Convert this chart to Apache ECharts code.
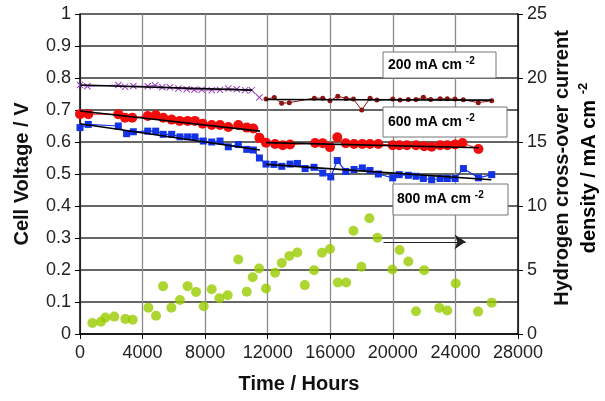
<!DOCTYPE html>
<html><head><meta charset="utf-8">
<script src="https://cdn.jsdelivr.net/npm/echarts@6/dist/echarts.min.js"></script>
<style>html,body{margin:0;padding:0;background:#fff}#c{width:605px;height:401px}</style>
</head><body><div id="c"></div>
<script>
// ---- data ----
var xTicks = [0,4000,8000,12000,16000,20000,24000,28000];
var leftTicks = [0,0.1,0.2,0.3,0.4,0.5,0.6,0.7,0.8,0.9,1];
var rightTicks = [0,5,10,15,20,25];

var t200a = [0,470,2450,2880,3410,4330,4800,5260,5750,6290,6820,7310,7780,8420,8950,9480,10020,10550,10980,11470];
var v200a = [0.778,0.774,0.778,0.773,0.775,0.774,0.777,0.771,0.771,0.767,0.765,0.763,0.763,0.762,0.763,0.767,0.765,0.762,0.762,0.739];

var t200b = [11890,12420,12890,13380,14980,15520,15980,16480,17010,17480,18010,18540,18980,20000,20460,20990,21480,21950,22420,23020,23480,23970,24500,25460,26320];
var v200b = [0.734,0.739,0.721,0.723,0.737,0.737,0.729,0.743,0.736,0.734,0.700,0.737,0.731,0.734,0.731,0.733,0.733,0.740,0.733,0.735,0.735,0.734,0.732,0.723,0.729];

var t600 = [0,530,2450,2880,3340,4330,4840,5320,5860,6370,6880,7350,7840,8420,8950,9480,10120,10660,11080,11470,11890,12470,12960,13430,15030,15520,15980,16450,16990,17520,18050,18540,19070,19990,20410,20900,21480,22000,22480,23020,23480,23980,24450,25470];
var v600 = [0.687,0.687,0.687,0.676,0.676,0.681,0.684,0.676,0.670,0.666,0.666,0.666,0.657,0.653,0.653,0.647,0.653,0.645,0.642,0.613,0.598,0.594,0.590,0.592,0.597,0.596,0.584,0.615,0.596,0.594,0.594,0.594,0.594,0.590,0.590,0.590,0.590,0.587,0.585,0.590,0.590,0.592,0.597,0.578];

var t800 = [0,530,2450,2980,3410,4330,4840,5320,5860,6390,6880,7350,7880,8420,8950,9480,10120,10660,11080,11470,11890,12400,12900,13430,13900,14390,14960,15520,16030,16450,16990,17520,18050,18540,19070,19990,20410,20990,21480,21950,22480,23020,23480,23980,24510,25470,26320];
var v800 = [0.645,0.655,0.650,0.626,0.632,0.634,0.634,0.624,0.624,0.616,0.616,0.616,0.603,0.600,0.603,0.585,0.592,0.577,0.575,0.550,0.531,0.530,0.524,0.531,0.533,0.517,0.521,0.503,0.491,0.542,0.508,0.514,0.519,0.511,0.500,0.488,0.498,0.496,0.493,0.486,0.482,0.486,0.486,0.486,0.517,0.488,0.498];

var tH2 = [790,1340,1620,2190,2900,3370,4370,4860,5310,5840,6390,6880,7420,7910,8420,8910,9440,10120,10660,11040,11450,11890,12470,12900,13380,13890,14370,14960,15470,15980,16480,17010,17480,17990,18500,19010,19970,20430,20990,21480,22000,22970,23480,24020,25450,26320];
var vH2 = [0.86,0.96,1.28,1.36,1.18,1.12,2.06,1.43,3.74,2.06,2.66,3.74,3.29,2.17,3.5,2.8,3.03,5.82,3.31,4.44,5.12,3.55,4.78,5.54,6.09,6.37,3.82,4.99,6.35,6.64,4.02,4.02,8.07,5.25,9.04,7.52,5.04,6.56,5.67,1.78,4.99,2.04,1.83,3.94,1.75,2.45];

// trend lines: [t0, v0, t1, v1]
var trend200a = [0,0.778,11000,0.762];
var trend200b = [11900,0.733,26300,0.731];
var trend600a = [0,0.697,11500,0.634];
var trend600b = [11900,0.598,25500,0.582];
var trend800a = [0,0.657,11500,0.575];
var trend800b = [11900,0.530,26300,0.482];

var arrowH2 = [19400,7.2,24650,7.2];

var labels = ['200 mA cm','600 mA cm','800 mA cm'];

// ---- build ----
function zip(a,b){return a.map(function(v,i){return [v,b[i]];});}
function seg(s){return [[s[0],s[1]],[s[2],s[3]]];}
var FF = 'Liberation Sans, Arial, sans-serif';
var xMark = 'path://M0,1L1,0L5,4L9,0L10,1L6,5L10,9L9,10L5,6L1,10L0,9L4,5Z';

function trend(s){
  return {type:'line', data:seg(s), symbol:'none', silent:true, z:5,
    lineStyle:{color:'#000', width:1.6}};
}

var chart = echarts.init(document.getElementById('c'), null, {renderer:'canvas'});
var axisLbl = {color:'#222', fontSize:18, fontFamily:FF};
chart.setOption({
  animation:false,
  backgroundColor:'#fff',
  grid:{left:80, right:87, top:14, bottom:67},
  xAxis:{type:'value', min:xTicks[0], max:xTicks[xTicks.length-1], interval:4000,
    name:'Time / Hours', nameLocation:'middle', nameGap:40,
    nameTextStyle:{fontSize:20, fontWeight:'bold', fontFamily:FF, color:'#111'},
    axisLine:{show:true, onZero:false, lineStyle:{color:'#000', width:1.5}},
    axisTick:{show:true, length:5, lineStyle:{color:'#000'}},
    axisLabel:Object.assign({margin:10, formatter:function(v){return String(v);}}, axisLbl),
    splitLine:{show:true, lineStyle:{color:'#8a8a8a', width:1.3}}},
  yAxis:[
    {type:'value', min:leftTicks[0], max:leftTicks[leftTicks.length-1], interval:0.1,
     name:'Cell Voltage / V', nameLocation:'middle', nameGap:48,
     nameTextStyle:{fontSize:20, fontWeight:'bold', fontFamily:FF, color:'#111'},
     axisLine:{show:true, lineStyle:{color:'#000', width:1.5}},
     axisTick:{show:true, length:5, lineStyle:{color:'#000'}},
     axisLabel:Object.assign({margin:9, formatter:function(v){return (v===0||v===1)?String(v):v.toFixed(1);}}, axisLbl),
     splitLine:{show:true, lineStyle:{color:'#333', width:1.6}}},
    {type:'value', min:rightTicks[0], max:rightTicks[rightTicks.length-1], interval:5, position:'right',
     axisLine:{show:true, lineStyle:{color:'#000', width:1.5}},
     axisTick:{show:true, length:5, lineStyle:{color:'#000'}},
     axisLabel:Object.assign({margin:9}, axisLbl),
     splitLine:{show:false}}
  ],
  series:[
    {type:'line', data:zip(t200a,v200a), symbol:xMark, symbolSize:7,
     itemStyle:{color:'#9a3fc4'}, lineStyle:{color:'#9a3fc4', width:1}},
    {type:'line', data:zip(t200b,v200b), symbol:'circle', symbolSize:5,
     itemStyle:{color:'#8c1414'}, lineStyle:{color:'#8c1414', width:1}},
    {type:'line', data:zip(t600,v600), symbol:'circle', symbolSize:10,
     itemStyle:{color:'#f20d0d'}, lineStyle:{color:'#f20d0d', width:1}},
    {type:'line', data:zip(t800,v800), symbol:'rect', symbolSize:7,
     itemStyle:{color:'#1432e6'}, lineStyle:{color:'#1432e6', width:1.2}},
    trend(trend200a), trend(trend200b), trend(trend600a), trend(trend600b), trend(trend800a), trend(trend800b),
    {type:'scatter', yAxisIndex:1, data:zip(tH2,vH2), symbol:'circle', symbolSize:10,
     itemStyle:{color:'#99cc00'},
     markLine:{silent:true, symbol:['none','arrow'], symbolSize:11, symbolOffset:[0,0],
       label:{show:false},
       lineStyle:{color:'#222', width:1.2, type:'solid'},
       emphasis:{disabled:true},
       data:[[{coord:[arrowH2[0],arrowH2[1]], symbol:'none'},{coord:[arrowH2[2],arrowH2[3]], symbol:'arrow', symbolSize:11, itemStyle:{color:'#000'}}]]}}
  ],
  graphic:[
    {type:'rect', shape:{x:383,y:52,width:113,height:26}, style:{fill:'#fff', stroke:'#777', lineWidth:1}, z:10},
    {type:'text', x:388, y:65, z:11, style:{text:'{a|'+labels[0]+' }{s|-2}', verticalAlign:'middle',
      rich:{a:{fontSize:14, fontWeight:'bold', fontFamily:FF, lineHeight:18}, s:{fontSize:10, fontWeight:'bold', fontFamily:FF, verticalAlign:'top', lineHeight:18}}}},
    {type:'rect', shape:{x:383,y:107,width:124,height:30}, style:{fill:'#fff', stroke:'#777', lineWidth:1}, z:10},
    {type:'text', x:388, y:122, z:11, style:{text:'{a|'+labels[1]+' }{s|-2}', verticalAlign:'middle',
      rich:{a:{fontSize:14, fontWeight:'bold', fontFamily:FF, lineHeight:18}, s:{fontSize:10, fontWeight:'bold', fontFamily:FF, verticalAlign:'top', lineHeight:18}}}},
    {type:'rect', shape:{x:393,y:184,width:115,height:31}, style:{fill:'#fff', stroke:'#777', lineWidth:1}, z:10},
    {type:'text', x:397, y:199, z:11, style:{text:'{a|'+labels[2]+' }{s|-2}', verticalAlign:'middle',
      rich:{a:{fontSize:14, fontWeight:'bold', fontFamily:FF, lineHeight:18}, s:{fontSize:10, fontWeight:'bold', fontFamily:FF, verticalAlign:'top', lineHeight:18}}}},
    {type:'text', x:562, y:168, rotation:Math.PI/2, z:11, style:{text:'Hydrogen cross-over current', align:'center', verticalAlign:'middle',
      font:'bold 20px '+FF, fill:'#111'}},
    {type:'text', x:589, y:168, rotation:Math.PI/2, z:11, style:{text:'{a|density / mA cm }{s|-2}', align:'center', verticalAlign:'middle',
      rich:{a:{fontSize:20, fontWeight:'bold', fontFamily:FF, lineHeight:24, color:'#111'}, s:{fontSize:13, fontWeight:'bold', fontFamily:FF, verticalAlign:'top', lineHeight:24, color:'#111'}}}}
  ]
});
</script></body></html>
